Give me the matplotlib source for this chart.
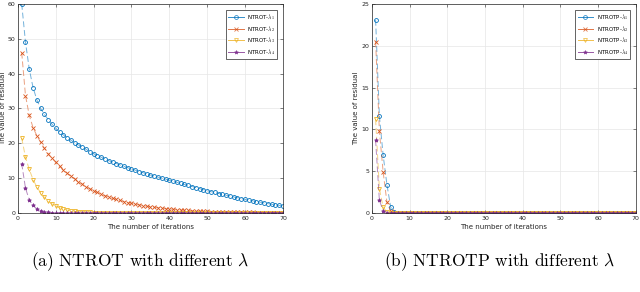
import matplotlib
matplotlib.use('Agg')
import matplotlib.pyplot as plt
import numpy as np

plt.rcParams['mathtext.fontset'] = 'cm'

# MATLAB default colour order
COLORS = ['#0072BD', '#D95319', '#EDB120', '#7E2F8E']
MARKERS = ['o', 'x', 'v', '*']
FILLED = [False, False, False, True]

iters = np.arange(1, 71)

# (a) NTROT residuals
ntrot_l1 = [60, 49, 41.3, 36, 32.5, 30, 28.3, 26.8, 25.5, 24.3,
            23.3, 22.4, 21.6, 20.9, 20.2, 19.5, 18.9, 18.3, 17.6, 17.0,
            16.5, 16.0, 15.5, 15.0, 14.6, 14.2, 13.8, 13.4, 13.0, 12.6,
            12.3, 11.9, 11.6, 11.2, 10.9, 10.6, 10.3, 10.0, 9.7, 9.4,
            9.1, 8.8, 8.5, 8.2, 7.9, 7.6, 7.3, 7.0, 6.7, 6.4,
            6.1, 5.9, 5.6, 5.4, 5.1, 4.9, 4.6, 4.4, 4.1, 3.9,
            3.7, 3.5, 3.3, 3.1, 2.9, 2.7, 2.5, 2.3, 2.2, 2.0]
ntrot_l2 = [46, 33.7, 28, 24.5, 22.2, 20.3, 18.6, 17.0, 15.7, 14.5,
            13.4, 12.4, 11.4, 10.6, 9.8, 9.0, 8.3, 7.6, 7.0, 6.4,
            5.9, 5.4, 5.0, 4.6, 4.2, 3.9, 3.6, 3.3, 3.0, 2.8,
            2.55, 2.35, 2.15, 1.95, 1.8, 1.65, 1.5, 1.35, 1.25, 1.15,
            1.05, 0.95, 0.87, 0.8, 0.73, 0.66, 0.6, 0.55, 0.5, 0.46,
            0.42, 0.38, 0.35, 0.32, 0.29, 0.27, 0.24, 0.22, 0.2, 0.18,
            0.17, 0.15, 0.14, 0.13, 0.12, 0.11, 0.1, 0.09, 0.08, 0.08]
ntrot_l3 = [21.5, 16.0, 12.5, 9.6, 7.5, 5.8, 4.5, 3.4, 2.6, 2.0,
            1.5, 1.15, 0.85, 0.65, 0.5, 0.38, 0.28, 0.21, 0.16, 0.12,
            0.09, 0.07, 0.05, 0.04, 0.03, 0.02, 0.02, 0.01, 0.01, 0.01] + [0.0] * 40
ntrot_l4 = [14.2, 7.1, 3.8, 2.2, 1.2, 0.65, 0.35, 0.2, 0.1, 0.05,
            0.03, 0.02, 0.01] + [0.0] * 57

# (b) NTROTP residuals
ntrotp_l1 = [23.1, 11.6, 6.9, 3.4, 0.7, 0.1, 0.02] + [0.0] * 63
ntrotp_l2 = [20.5, 9.8, 4.9, 1.3, 0.2, 0.03] + [0.0] * 64
ntrotp_l3 = [11.2, 2.9, 0.7, 0.1, 0.01] + [0.0] * 65
ntrotp_l4 = [8.7, 1.5, 0.3, 0.05] + [0.0] * 66

fig = plt.figure(figsize=(6.4, 2.92), dpi=100)
ax_a = fig.add_axes([0.028, 0.2705, 0.414, 0.716])
ax_b = fig.add_axes([0.581, 0.2705, 0.4125, 0.716])


def draw(ax, series, name, ymax, ystep, ylab_x):
    for i, vals in enumerate(series):
        c = COLORS[i]
        ax.plot(iters, vals, '--', color=c, lw=0.7, alpha=0.55, dashes=(6, 3))
        ax.plot(iters, vals, linestyle='none', marker=MARKERS[i], ms=2.8,
                mew=0.6, mec=c, mfc=c if FILLED[i] else 'none')
    handles = [plt.Line2D([], [], color=COLORS[i], lw=0.7, ls='-', alpha=0.8,
                          marker=MARKERS[i], ms=2.8, mew=0.6, mec=COLORS[i],
                          mfc=COLORS[i] if FILLED[i] else 'none')
               for i in range(4)]
    labels = [name + r'-$\lambda_%d$' % (i + 1) for i in range(4)]
    leg = ax.legend(handles, labels, loc='upper right', fontsize=4,
                    fancybox=False, framealpha=1, edgecolor='#262626',
                    handlelength=2.8, handletextpad=0.6, borderpad=0.45,
                    labelspacing=0.3, bbox_to_anchor=(0.99, 0.985))
    leg.get_frame().set_linewidth(0.5)
    ax.set_xlim(0, 70)
    ax.set_ylim(0, ymax)
    ax.set_xticks(np.arange(0, 71, 10))
    ax.set_yticks(np.arange(0, ymax + 1, ystep))
    ax.grid(True, color='#e6e6e6', lw=0.5)
    ax.set_axisbelow(True)
    ax.tick_params(direction='in', length=2, width=0.4, labelsize=4.5,
                   top=True, right=True, colors='#262626', pad=2)
    for s in ax.spines.values():
        s.set_linewidth(0.5)
        s.set_color('#262626')
    ax.set_xlabel('The number of iterations', fontsize=5, labelpad=2, color='#262626')
    ax.set_ylabel('The value of residual', fontsize=5, color='#262626')
    ax.yaxis.set_label_coords(ylab_x, 0.5)


draw(ax_a, [ntrot_l1, ntrot_l2, ntrot_l3, ntrot_l4], 'NTROT', 60, 10, -0.044)
draw(ax_b, [ntrotp_l1, ntrotp_l2, ntrotp_l3, ntrotp_l4], 'NTROTP', 25, 5, -0.049)

fig.text(0.219, 0.103, r'(a) NTROT with different $\lambda$', fontsize=12.5,
         family='cmr10', ha='center', va='center')
fig.text(0.78, 0.103, r'(b) NTROTP with different $\lambda$', fontsize=12.5,
         family='cmr10', ha='center', va='center')

fig.savefig('out.png', dpi=100)
